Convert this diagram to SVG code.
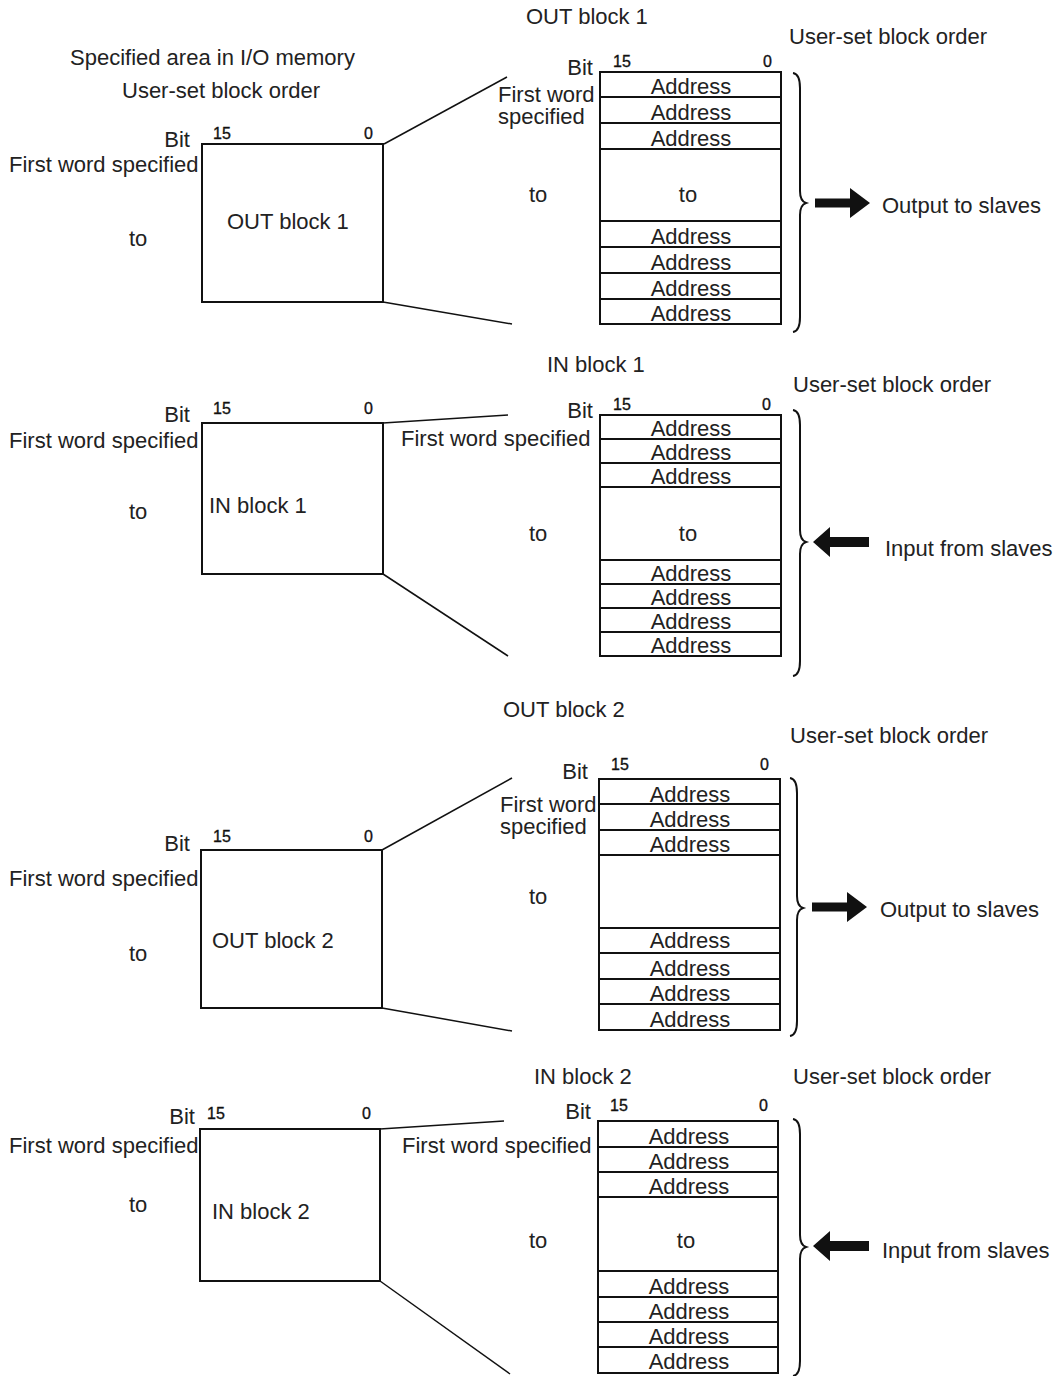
<svg xmlns="http://www.w3.org/2000/svg" width="1056" height="1376" viewBox="0 0 1056 1376">
<style>
text{font-family:"Liberation Sans",Arial,Helvetica,sans-serif;fill:#222;font-size:22px}
.s{font-size:16px;fill:#111;stroke:#111;stroke-width:0.35}
.m{text-anchor:middle}
.e{text-anchor:end}
.box{fill:#fff;stroke:#111;stroke-width:2}
.row{stroke:#111;stroke-width:2;fill:none}
.ln{stroke:#111;stroke-width:1.5;fill:none}
.br{stroke:#111;stroke-width:2;fill:none}
.ar{fill:#111}
</style>
<defs>
<path id="arR" d="M0,-4.5 H35 V-15 L55,0 L35,15 V4.5 H0 Z"/>
<path id="arL" d="M0,0 L17,-15 V-5 H56 V5 H17 V15 Z"/>
</defs>
<rect width="1056" height="1376" fill="#fff"/>

<g id="connectors">
<line class="ln" x1="384" y1="144" x2="507" y2="77"/>
<line class="ln" x1="383" y1="302" x2="512" y2="324"/>
<line class="ln" x1="383" y1="423" x2="508" y2="415"/>
<line class="ln" x1="383" y1="574" x2="508" y2="656"/>
<line class="ln" x1="382" y1="850" x2="512" y2="778"/>
<line class="ln" x1="382" y1="1008" x2="512" y2="1031"/>
<line class="ln" x1="380" y1="1129" x2="504" y2="1121"/>
<line class="ln" x1="380" y1="1281" x2="510" y2="1374"/>
<use href="#arR" class="ar" x="815" y="203"/>
<use href="#arL" class="ar" x="813" y="542"/>
<use href="#arR" class="ar" x="812" y="907"/>
<use href="#arL" class="ar" x="813" y="1246"/>
</g>

<!-- ===== Section 1: OUT block 1 ===== -->
<g id="area-out1">
<text x="70" y="65">Specified area in I/O memory</text>
<text x="122" y="98">User-set block order</text>
<text class="e" x="190" y="147">Bit</text>
<text class="s" x="213" y="139">15</text>
<text class="s" x="364" y="139">0</text>
<text x="9" y="172">First word specified</text>
<text x="129" y="246">to</text>
<rect class="box" x="202" y="144" width="181" height="158"/>
<text x="227" y="229">OUT block 1</text>
</g>
<g id="stack-out1">
<text x="526" y="24">OUT block 1</text>
<text x="789" y="44">User-set block order</text>
<text class="e" x="593" y="75">Bit</text>
<text class="s" x="613" y="67">15</text>
<text class="s" x="763" y="67">0</text>
<text x="498" y="102">First word</text>
<text x="498" y="124">specified</text>
<text x="529" y="202">to</text>
<rect class="box" x="600" y="72" width="181" height="252"/>
<path class="row" d="M600,97H781M600,123H781M600,149H781M600,221H781M600,247H781M600,273H781M600,299H781"/>
<text class="m" x="691" y="94">Address</text>
<text class="m" x="691" y="120">Address</text>
<text class="m" x="691" y="146">Address</text>
<text class="m" x="688" y="202">to</text>
<text class="m" x="691" y="244">Address</text>
<text class="m" x="691" y="270">Address</text>
<text class="m" x="691" y="296">Address</text>
<text class="m" x="691" y="321">Address</text>
</g>
<g id="brace-out1">
<path class="br" d="M793,73 Q800,74 800,88 L800,191 Q800,201 806,203 Q800,205 800,215 L800,317 Q800,331 793,332"/>
<text x="882" y="213">Output to slaves</text>
</g>

<!-- ===== Section 2: IN block 1 ===== -->
<g id="area-in1">
<text class="e" x="190" y="422">Bit</text>
<text class="s" x="213" y="414">15</text>
<text class="s" x="364" y="414">0</text>
<text x="9" y="448">First word specified</text>
<text x="129" y="519">to</text>
<rect class="box" x="202" y="423" width="181" height="151"/>
<text x="209" y="513">IN block 1</text>
</g>
<g id="stack-in1">
<text x="547" y="372">IN block 1</text>
<text x="793" y="392">User-set block order</text>
<text class="e" x="593" y="418">Bit</text>
<text class="s" x="613" y="410">15</text>
<text class="s" x="762" y="410">0</text>
<text x="401" y="446">First word specified</text>
<text x="529" y="541">to</text>
<rect class="box" x="600" y="415" width="181" height="241"/>
<path class="row" d="M600,439H781M600,463H781M600,487H781M600,560H781M600,584H781M600,608H781M600,632H781"/>
<text class="m" x="691" y="436">Address</text>
<text class="m" x="691" y="460">Address</text>
<text class="m" x="691" y="484">Address</text>
<text class="m" x="688" y="541">to</text>
<text class="m" x="691" y="581">Address</text>
<text class="m" x="691" y="605">Address</text>
<text class="m" x="691" y="629">Address</text>
<text class="m" x="691" y="653">Address</text>
</g>
<g id="brace-in1">
<path class="br" d="M793,410 Q800,411 800,425 L800,530 Q800,540 806,542 Q800,544 800,554 L800,661 Q800,675 793,676"/>
<text x="885" y="556">Input from slaves</text>
</g>

<!-- ===== Section 3: OUT block 2 ===== -->
<g id="area-out2">
<text class="e" x="190" y="851">Bit</text>
<text class="s" x="213" y="842">15</text>
<text class="s" x="364" y="842">0</text>
<text x="9" y="886">First word specified</text>
<text x="129" y="961">to</text>
<rect class="box" x="201" y="850" width="181" height="158"/>
<text x="212" y="948">OUT block 2</text>
</g>
<g id="stack-out2">
<text x="503" y="717">OUT block 2</text>
<text x="790" y="743">User-set block order</text>
<text class="e" x="588" y="779">Bit</text>
<text class="s" x="611" y="770">15</text>
<text class="s" x="760" y="770">0</text>
<text x="500" y="812">First word</text>
<text x="500" y="834">specified</text>
<text x="529" y="904">to</text>
<rect class="box" x="599" y="779" width="181" height="251"/>
<path class="row" d="M599,804H780M599,830H780M599,855H780M599,928H780M599,953H780M599,979H780M599,1004H780"/>
<text class="m" x="690" y="802">Address</text>
<text class="m" x="690" y="827">Address</text>
<text class="m" x="690" y="852">Address</text>
<text class="m" x="690" y="948">Address</text>
<text class="m" x="690" y="976">Address</text>
<text class="m" x="690" y="1001">Address</text>
<text class="m" x="690" y="1027">Address</text>
</g>
<g id="brace-out2">
<path class="br" d="M790,778 Q797,779 797,793 L797,896 Q797,906 803,908 Q797,910 797,920 L797,1021 Q797,1035 790,1036"/>
<text x="880" y="917">Output to slaves</text>
</g>

<!-- ===== Section 4: IN block 2 ===== -->
<g id="area-in2">
<text class="e" x="195" y="1124">Bit</text>
<text class="s" x="207" y="1119">15</text>
<text class="s" x="362" y="1119">0</text>
<text x="9" y="1153">First word specified</text>
<text x="129" y="1212">to</text>
<rect class="box" x="200" y="1129" width="180" height="152"/>
<text x="212" y="1219">IN block 2</text>
</g>
<g id="stack-in2">
<text x="534" y="1084">IN block 2</text>
<text x="793" y="1084">User-set block order</text>
<text class="e" x="591" y="1119">Bit</text>
<text class="s" x="610" y="1111">15</text>
<text class="s" x="759" y="1111">0</text>
<text x="402" y="1153">First word specified</text>
<text x="529" y="1248">to</text>
<rect class="box" x="598" y="1121" width="180" height="252"/>
<path class="row" d="M598,1147H778M598,1172H778M598,1197H778M598,1271H778M598,1297H778M598,1322H778M598,1347H778"/>
<text class="m" x="689" y="1144">Address</text>
<text class="m" x="689" y="1169">Address</text>
<text class="m" x="689" y="1194">Address</text>
<text class="m" x="686" y="1248">to</text>
<text class="m" x="689" y="1294">Address</text>
<text class="m" x="689" y="1319">Address</text>
<text class="m" x="689" y="1344">Address</text>
<text class="m" x="689" y="1369">Address</text>
</g>
<g id="brace-in2">
<path class="br" d="M793,1119 Q800,1120 800,1134 L800,1235 Q800,1245 806,1247 Q800,1249 800,1259 L800,1361 Q800,1375 793,1376"/>
<text x="882" y="1258">Input from slaves</text>
</g>
</svg>
